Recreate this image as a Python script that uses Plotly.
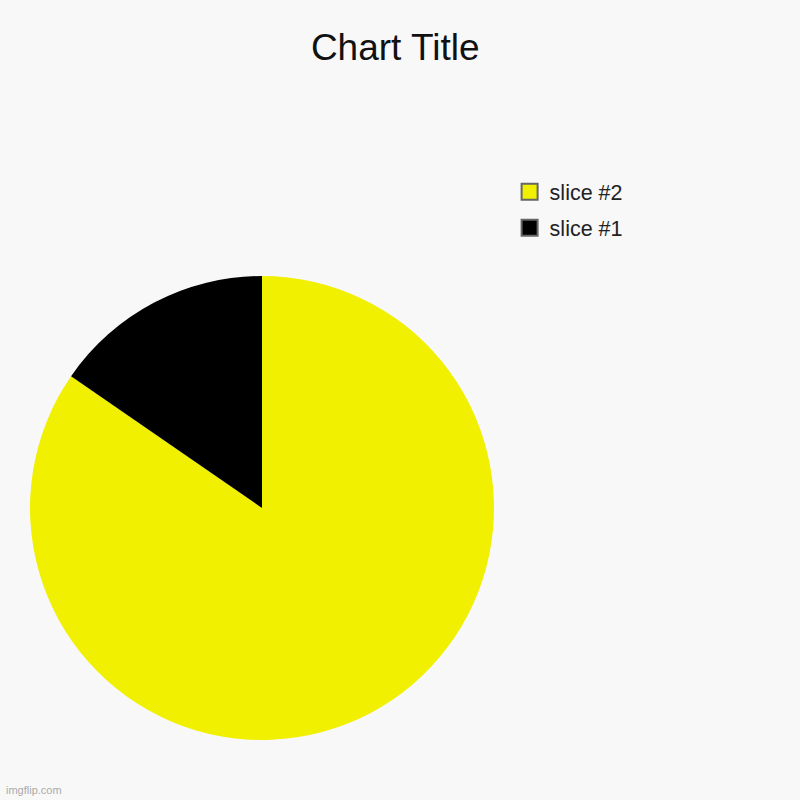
import plotly.graph_objects as go

# slice values (slice #1 is about 15% of the pie)
labels = ['slice #1', 'slice #2']
values = [2, 11]
colors = ['#000000', '#f0f000']

fig = go.Figure()

# slices listed from slice #2 so that slice #1 ends at 12 o'clock, left of it
fig.add_trace(go.Pie(
    labels=labels[::-1],
    values=values[::-1],
    sort=False,
    direction='clockwise',
    rotation=0,
    marker=dict(colors=colors[::-1], line=dict(width=0)),
    textinfo='none',
    hoverinfo='label+value+percent',
    showlegend=False,
    domain=dict(x=[0.0375, 0.6175], y=[0.075, 0.655]),
))

# legend entries drawn as square markers so they get the grey outline
for name, color in zip(labels[::-1], colors[::-1]):
    fig.add_trace(go.Scatter(
        x=[None], y=[None], mode='markers', name=name, legendgroup=name,
        marker=dict(symbol='square', size=22, color=color,
                    line=dict(color='#666666', width=2)),
    ))

fig.update_layout(
    width=800,
    height=800,
    paper_bgcolor='#f8f8f8',
    plot_bgcolor='#f8f8f8',
    margin=dict(l=0, r=0, t=0, b=0),
    font=dict(family='Liberation Sans, Arial, sans-serif', color='#222222'),
    title=dict(text='Chart Title', x=0.494, xanchor='center', y=0.941, yanchor='middle',
               font=dict(size=37, color='#111111')),
    xaxis=dict(visible=False),
    yaxis=dict(visible=False),
    legend=dict(x=0.637, y=0.786, xanchor='left', yanchor='top',
                traceorder='grouped', font=dict(size=21.5, color='#222222'),
                bgcolor='rgba(0,0,0,0)', itemwidth=30, itemsizing='trace',
                tracegroupgap=5),
    annotations=[dict(text='imgflip.com', x=0.005, y=0.003, xref='paper', yref='paper',
                      xanchor='left', yanchor='bottom', showarrow=False,
                      font=dict(size=11, color='#aaaaaa'))],
)

fig.write_html('out.html', config={'displayModeBar': False},
               post_script="document.body.style.margin='0';")
